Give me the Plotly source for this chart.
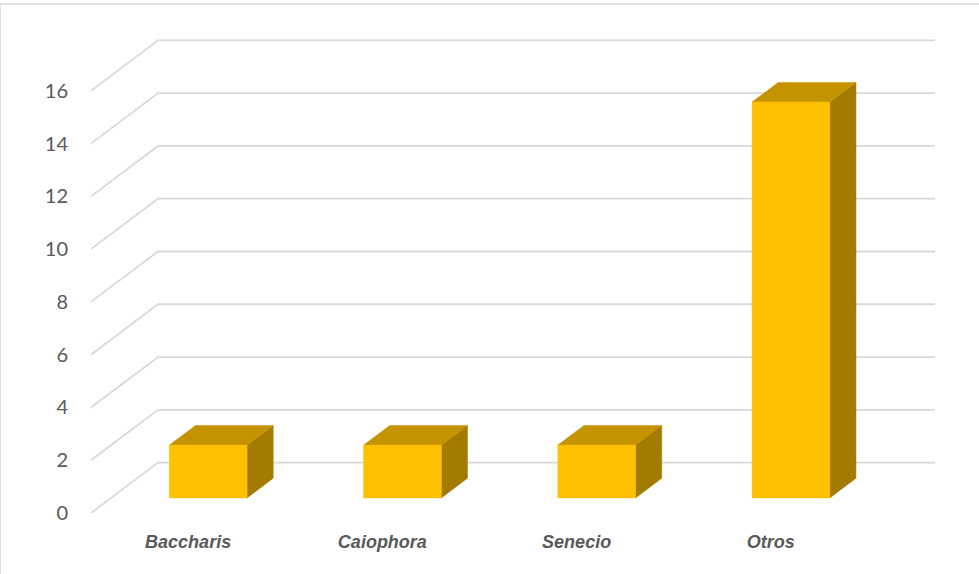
import plotly.graph_objects as go

# Data
categories = ["Baccharis", "Caiophora", "Senecio", "Otros"]
values = [2, 2, 2, 15]
y_ticks = [0, 2, 4, 6, 8, 10, 12, 14, 16]

# Oblique 3-D look: depth vector of the floor/back wall in axis units
DEPTH_X = 0.345   # x-units from front plane to back plane
DEPTH_Y = 1.91    # y-units from front plane to back plane
BAR_FRONT = 0.30  # depth fraction of the bar's front face
BAR_BACK = 0.69   # depth fraction of the bar's back face
HALF_W = 0.20     # half width of a bar in category units

GRID_COLOR = "#D9D9D9"
FACE_FRONT = "#FFC000"
FACE_TOP = "#C59300"
FACE_SIDE = "#A27B00"

X_MIN = -0.5
X_MAX = len(categories) - 0.5 + DEPTH_X

fig = go.Figure()

# Gridlines: diagonal on the left wall, then horizontal along the back wall
for t in y_ticks:
    fig.add_trace(go.Scatter(
        x=[X_MIN, X_MIN + DEPTH_X, X_MAX],
        y=[t, t + DEPTH_Y, t + DEPTH_Y],
        mode="lines",
        line=dict(color=GRID_COLOR, width=1.8),
        hoverinfo="skip",
        showlegend=False,
    ))


def poly(xs, ys, color):
    fig.add_trace(go.Scatter(
        x=xs + [xs[0]], y=ys + [ys[0]],
        mode="lines", fill="toself", fillcolor=color,
        line=dict(color=color, width=0.5),
        hoverinfo="skip", showlegend=False,
    ))


for i, v in enumerate(values):
    fx0 = i - HALF_W + BAR_FRONT * DEPTH_X
    fx1 = i + HALF_W + BAR_FRONT * DEPTH_X
    bx0 = i - HALF_W + BAR_BACK * DEPTH_X
    bx1 = i + HALF_W + BAR_BACK * DEPTH_X
    fy = BAR_FRONT * DEPTH_Y
    by = BAR_BACK * DEPTH_Y
    # right side face
    poly([fx1, bx1, bx1, fx1], [fy, by, v + by, v + fy], FACE_SIDE)
    # top face
    poly([fx0, fx1, bx1, bx0], [v + fy, v + fy, v + by, v + by], FACE_TOP)
    # front face
    poly([fx0, fx1, fx1, fx0], [fy, fy, v + fy, v + fy], FACE_FRONT)

fig.update_xaxes(
    range=[X_MIN, X_MAX],
    tickvals=list(range(len(categories))),
    ticktext=[f"<b><i>{c}</i></b>" for c in categories],
    tickfont=dict(family="Liberation Sans Narrow, Arial Narrow, Liberation Sans", size=18, color="#595959"),
    showgrid=False, zeroline=False, showline=False,
    ticks="", ticklabelstandoff=16,
    fixedrange=True,
)
fig.update_yaxes(
    range=[0, 18],
    tickvals=y_ticks,
    tickfont=dict(family="Lato, Carlito, Calibri", size=20, color="#595959"),
    showgrid=False, zeroline=False, showline=False,
    ticks="", ticklabelstandoff=22,
    fixedrange=True,
)

# Chart area border (extends past the right and bottom edges)
fig.add_shape(
    type="rect", xref="paper", yref="paper",
    x0=-91 / 844, x1=1.2, y0=-0.2, y1=1 + 34 / 475,
    line=dict(color=GRID_COLOR, width=1.5),
    layer="below",
)

fig.update_layout(
    width=979, height=574,
    margin=dict(l=91, r=44, t=38, b=61),
    plot_bgcolor="white", paper_bgcolor="white",
    showlegend=False,
)

fig.write_html("out.html")
